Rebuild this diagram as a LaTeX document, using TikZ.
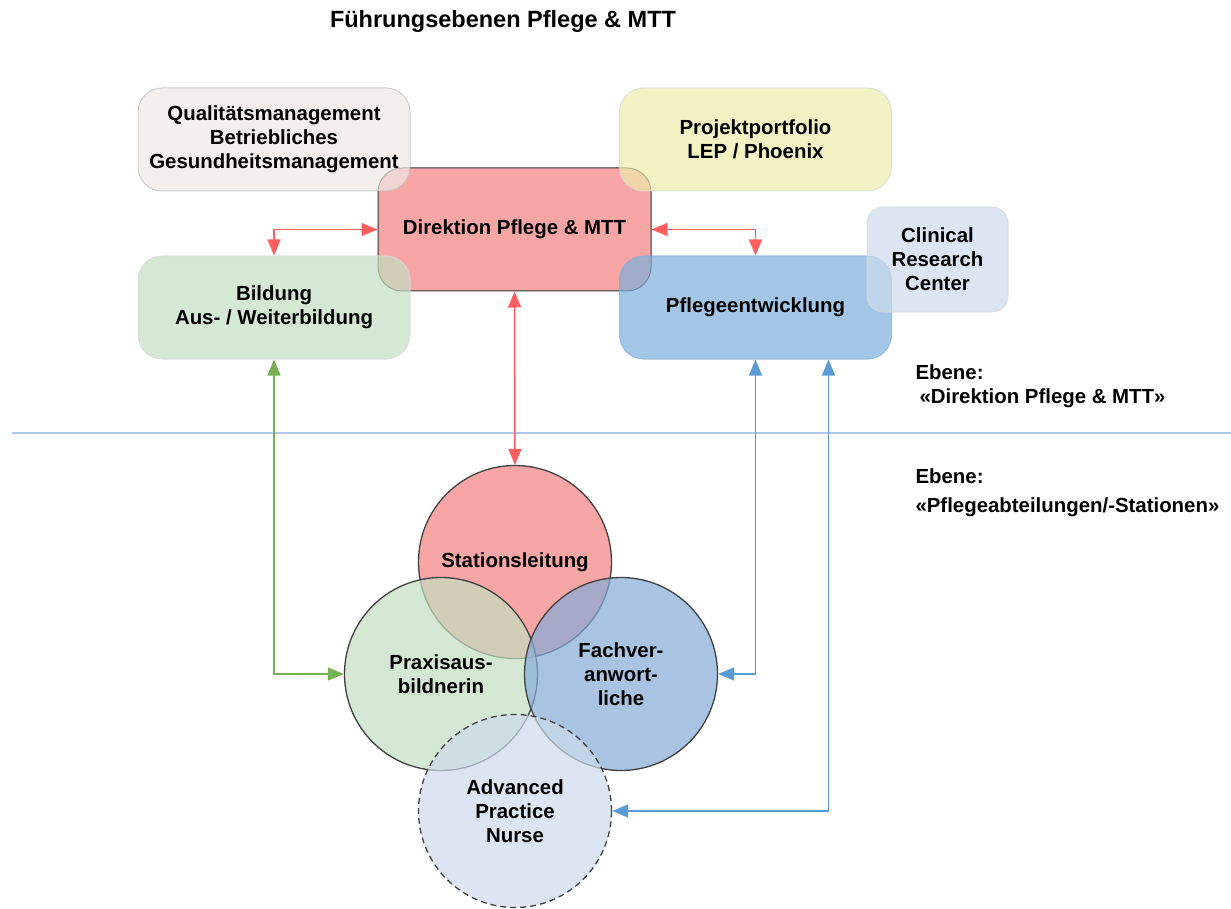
\documentclass[tikz,border=0pt]{standalone}
\usepackage{fontspec}
\setmainfont{Liberation Sans}
\usetikzlibrary{calc, positioning}
\usetikzlibrary{arrows.meta}

\definecolor{dirred}{RGB}{248,165,165}
\definecolor{qualgray}{RGB}{236,232,228}
\definecolor{projyellow}{RGB}{236,236,171}
\definecolor{bildgreen}{RGB}{195,222,194}
\definecolor{pflblue}{RGB}{125,174,219}
\definecolor{crcblue}{RGB}{205,219,236}
\definecolor{fachblue}{RGB}{132,171,214}
\definecolor{linered}{RGB}{255,95,95}
\definecolor{linegreen}{RGB}{118,178,84}
\definecolor{lineblue}{RGB}{91,155,213}
\definecolor{sepblue}{RGB}{175,200,235}

\begin{document}
\begin{tikzpicture}[x=1pt, y=-1pt,
  txt/.style={font=\bfseries\fontsize{20.4}{24}\selectfont, align=center},
  box/.style={txt, rounded corners=24pt, minimum width=272pt, minimum height=103pt,
    inner sep=0pt, line width=1pt, fill opacity=0.7, draw opacity=0.7, text opacity=1},
  ring/.style={txt, circle, minimum size=193pt, inner sep=0pt, draw=black!75,
    line width=1.3pt, fill opacity=0.7, text opacity=1},
  link/.style={line width=1.5pt, {Triangle[length=16pt,width=13pt]}-{Triangle[length=16pt,width=13pt]}}]
\useasboundingbox (0,0) rectangle (1231,909);

\def\xL{274}
\def\xM{514.5}
\def\xR{755.5}

% title
\node[txt, font=\bfseries\fontsize{23.5}{28}\selectfont] (title) at (503,21) {Führungsebenen Pflege \& MTT};

% upper level
\node[box, opacity=1, fill=dirred, draw=black!80, minimum width=273pt, minimum height=123pt] (dir) at (\xM,229.5) {Direktion Pflege \& MTT};
\node[box, fill=qualgray, draw=black!25] (qual) at (\xL,139.5) {Qualitätsmanagement\\Betriebliches\\Gesundheitsmanagement};
\node[box, fill=projyellow, draw=black!15] (proj) at (\xR,139.5) {Projektportfolio\\LEP / Phoenix};
\node[box, fill=bildgreen, draw=black!15] (bild) at (\xL,307.5) {Bildung\\Aus- / Weiterbildung};
\node[box, fill=pflblue, draw=pflblue] (pfl) at (\xR,307.5) {Pflegeentwicklung};
\node[box, fill=crcblue, draw=black!15, minimum width=141pt, minimum height=105pt, rounded corners=16pt] (crc) at (937.5,259.5) {Clinical\\Research\\Center};

% level separator
\coordinate (sepL) at (12,433);
\coordinate (sepR) at (1231,433);
\draw[sepblue, line width=2pt] (sepL) -- (sepR);

\node[txt, anchor=west, align=left] (ebene1) at (912,386) {Ebene:\\\hspace*{4pt}«Direktion Pflege \& MTT»};
\node[txt, anchor=west, align=left] (ebene2) at (912,493) {Ebene:\\[5pt]«Pflegeabteilungen/-Stationen»};

% lower level
\node[ring, fill=dirred, fill opacity=1] (stat) at (515,562) {Stationsleitung};
\node[ring, fill=bildgreen] (prax) at (441,674) {Praxisaus-\\bildnerin};
\node[ring, fill=fachblue] (fach) at (621,674) {Fachver-\\anwort-\\liche};
\node[ring, fill=crcblue, dash pattern=on 6pt off 4pt] (apn) at (515,811) {Advanced\\Practice\\Nurse};

% links
\coordinate (pfl2) at ([xshift=73pt]pfl.south);
\draw[link, linered] (dir.west) -| (bild.north);
\draw[link, linered] (dir.east) -| (pfl.north);
\draw[link, linered] (dir.south) -- (stat.north);
\draw[link, linegreen] (bild.south) |- (prax.west);
\draw[link, lineblue] (pfl.south) |- (fach.east);
\draw[link, lineblue] (pfl2) |- (apn.east);
\end{tikzpicture}
\end{document}
